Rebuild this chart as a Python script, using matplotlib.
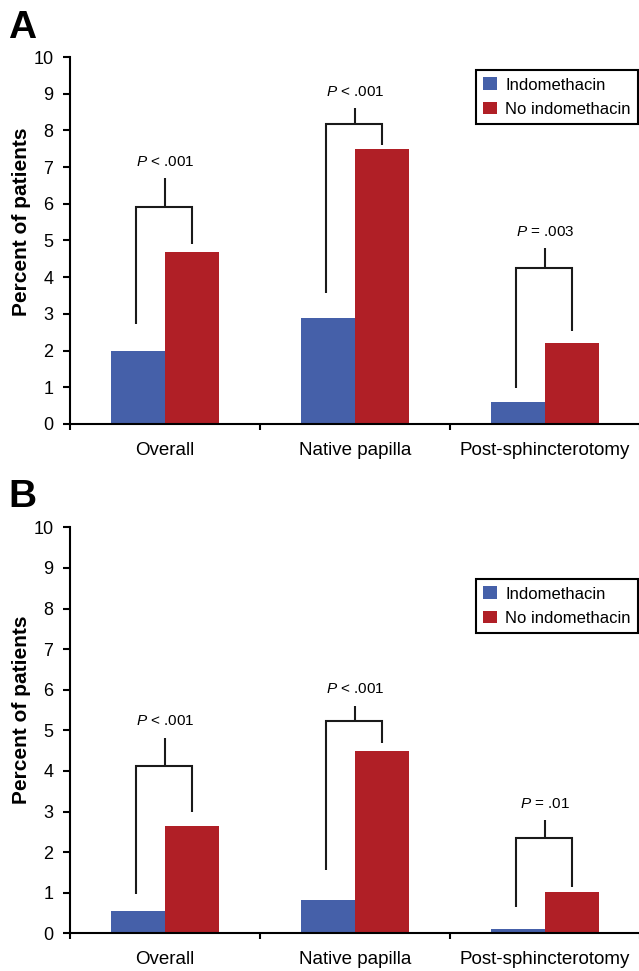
import matplotlib
matplotlib.use("Agg")
import matplotlib.pyplot as plt
from matplotlib.patches import Patch

plt.rcParams['font.family'] = ['Liberation Sans', 'DejaVu Sans']
plt.rcParams['mathtext.fontset'] = 'custom'
plt.rcParams['mathtext.it'] = 'Liberation Sans:italic'
plt.rcParams['mathtext.rm'] = 'Liberation Sans'

categories = ["Overall", "Native papilla", "Post-sphincterotomy"]
series_names = ["Indomethacin", "No indomethacin"]
yticks = [0, 1, 2, 3, 4, 5, 6, 7, 8, 9, 10]

a_indo = [2.0, 2.9, 0.6]
a_noindo = [4.7, 7.5, 2.2]
b_indo = [0.55, 0.83, 0.11]
b_noindo = [2.65, 4.5, 1.02]

a_pvals = ["< .001", "< .001", "= .003"]
b_pvals = ["< .001", "< .001", "= .01"]

# bracket levels (data units): left leg bottom, right leg bottom, crossbar, stem top
a_brackets = [(2.72, 4.9, 5.92, 6.7), (3.57, 7.6, 8.17, 8.6), (0.98, 2.53, 4.26, 4.79)]
b_brackets = [(0.97, 2.98, 4.12, 4.82), (1.56, 4.69, 5.24, 5.6), (0.64, 1.15, 2.34, 2.79)]

BLUE = '#4560A9'
RED = '#B01F26'
W = 0.285
FW, FH = 639, 971

fig = plt.figure(figsize=(FW / 100, FH / 100), dpi=100)


def panel(rect, indo, noindo, pvals, brackets, legend_top, letter, letter_base):
    ax = fig.add_axes(rect)
    x = list(range(len(categories)))
    ax.bar([i - W / 2 for i in x], indo, width=W, color=BLUE, label=series_names[0])
    ax.bar([i + W / 2 for i in x], noindo, width=W, color=RED, label=series_names[1])
    for i, (lb, rb, cb, st) in enumerate(brackets):
        xl, xr = i - W / 2 - 0.01, i + W / 2
        ax.plot([xl, xl, xr, xr], [lb, cb, cb, rb], color='#1a1a1a', lw=1.5,
                solid_joinstyle='miter', solid_capstyle='butt')
        ax.plot([i, i], [cb, st], color='#1a1a1a', lw=1.5, solid_capstyle='butt')
        ax.annotate(r"$\it{P}$ " + pvals[i], xy=(i, st), xytext=(0, 9),
                    textcoords='offset points', ha='center', va='baseline',
                    fontsize=11)
    ax.set_xlim(-0.5, 2.5)
    ax.set_ylim(0, 10)
    ax.set_yticks(yticks)
    ax.set_yticklabels([str(t) for t in yticks], fontsize=13)
    ax.set_xticks([-0.5, 0.5, 1.5, 2.5])
    ax.set_xticklabels([])
    ax.set_xticks(x, minor=True)
    ax.set_xticklabels(categories, minor=True, fontsize=13.5)
    ax.tick_params(axis='x', which='major', length=4.5, width=1.5, direction='out')
    ax.tick_params(axis='x', which='minor', length=0, pad=13)
    ax.tick_params(axis='y', length=5, width=1.5, pad=7)
    for s in ['top', 'right']:
        ax.spines[s].set_visible(False)
    for s in ['left', 'bottom']:
        ax.spines[s].set_linewidth(1.5)
    ax.set_ylabel("Percent of patients", fontsize=15, fontweight='bold')
    ax.yaxis.set_label_coords(-0.068, 0.55)
    handles = [Patch(facecolor=BLUE, label=series_names[0]),
               Patch(facecolor=RED, label=series_names[1])]
    leg = ax.legend(handles=handles, loc='upper right', bbox_to_anchor=(0.9965, legend_top),
                    borderaxespad=0, fontsize=12, fancybox=False, edgecolor='black',
                    handlelength=0.8, handleheight=0.8, handletextpad=0.5,
                    borderpad=0.45, labelspacing=0.55, framealpha=1)
    leg.get_frame().set_linewidth(1.5)
    fig.text(8 / FW, 1 - letter_base / FH, letter, fontsize=28, fontweight='bold',
             va='baseline', ha='left')
    return ax


panel([70 / FW, 1 - 424 / FH, 570 / FW, 367 / FH], a_indo, a_noindo, a_pvals, a_brackets,
      0.965, "A", 38)
panel([70 / FW, 1 - 933.3 / FH, 570 / FW, 406 / FH], b_indo, b_noindo, b_pvals, b_brackets,
      0.873, "B", 507)

fig.savefig("out.png", dpi=100)
